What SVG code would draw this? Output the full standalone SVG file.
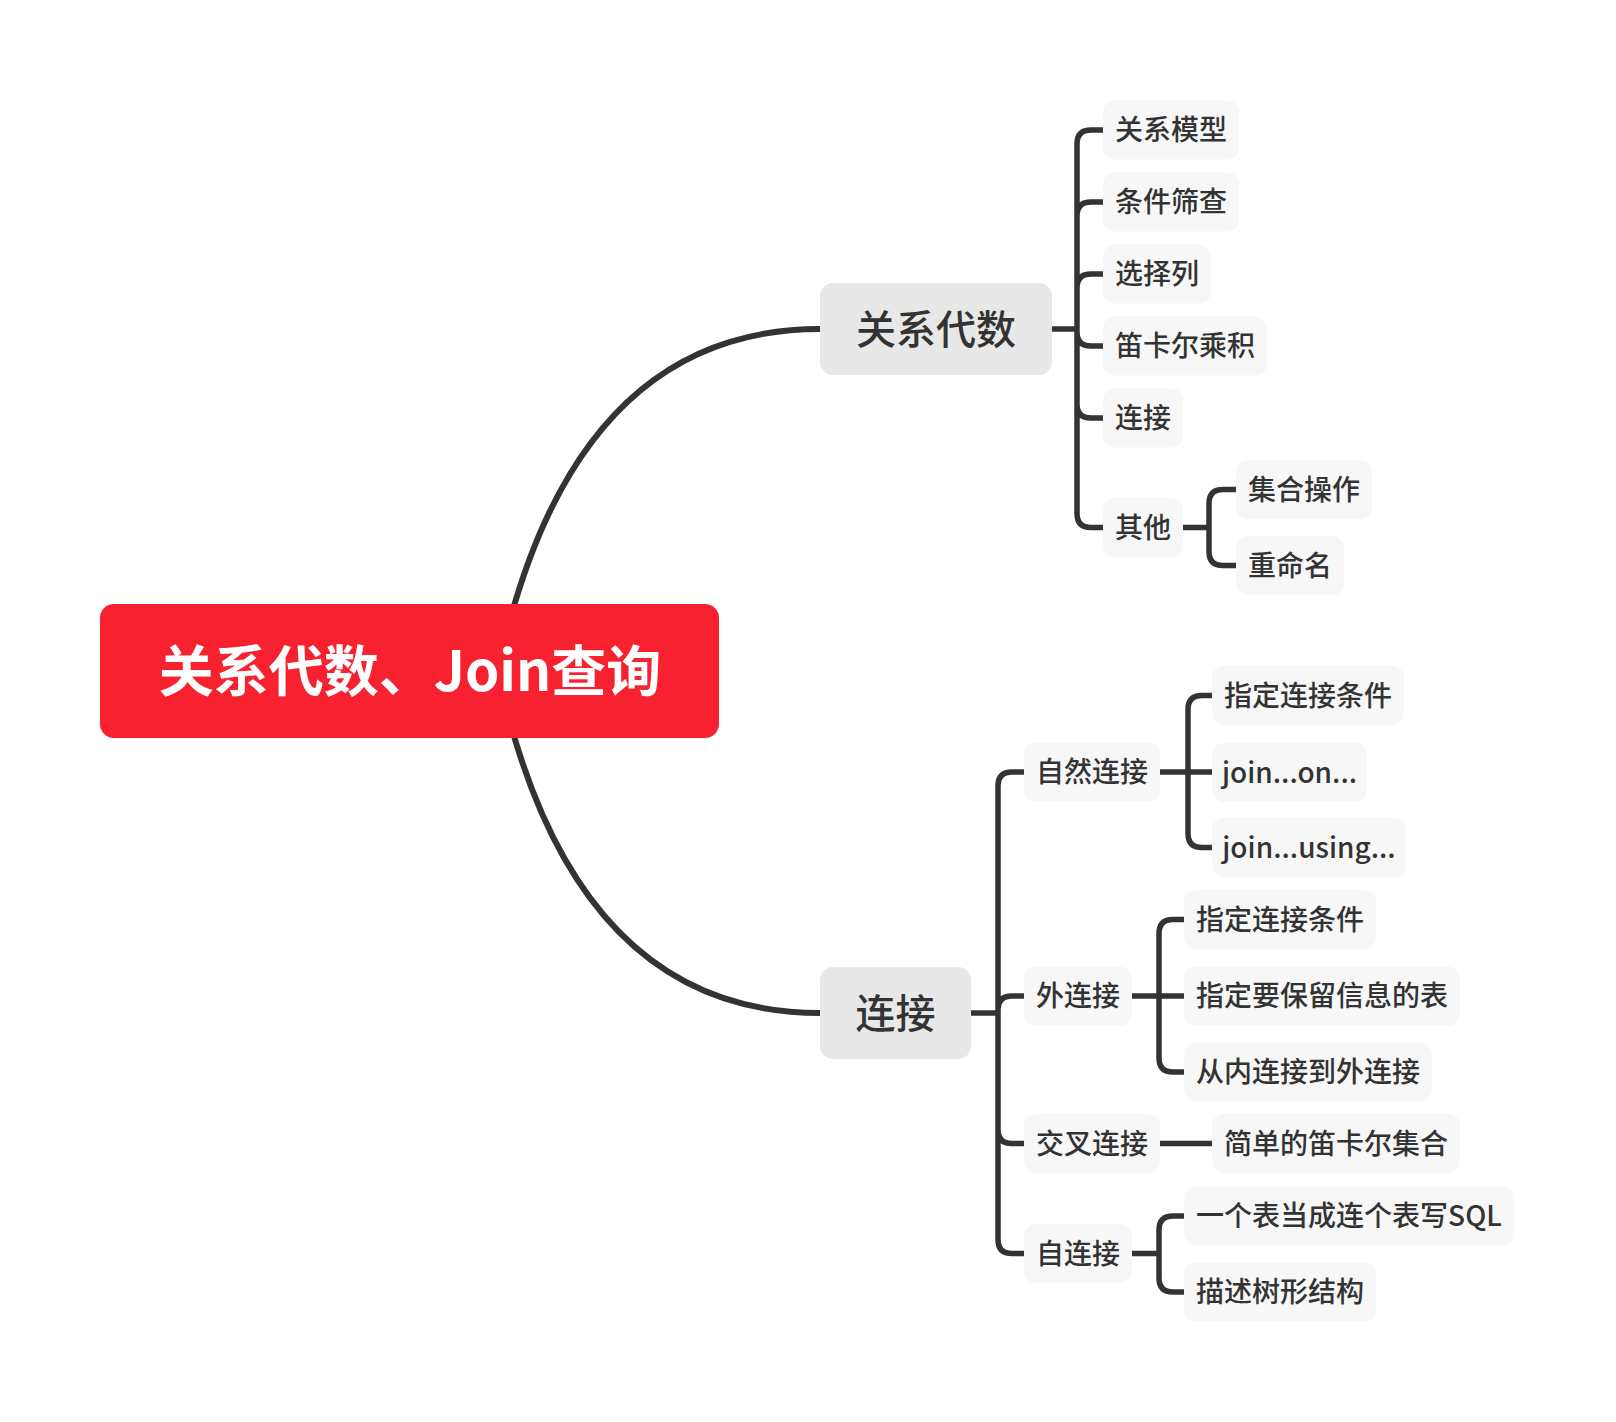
<svg xmlns="http://www.w3.org/2000/svg" width="1616" height="1422" viewBox="0 0 1616 1422">
<style>
.root rect{fill:#F7212F}
.root text{fill:#FFFFFF;font-size:55px;font-weight:700}
.l1 rect{fill:#E8E8E8}
.l1 text{fill:#333333;font-size:40px;font-weight:500}
.l2 rect{fill:#F7F7F7}
.l2 text{fill:#333333;font-size:28px;font-weight:500}
text{font-family:"Noto Sans CJK SC","Noto Sans",sans-serif;text-anchor:middle}
.conn path{fill:none;stroke:#333333;stroke-width:5.5;stroke-linecap:butt;stroke-linejoin:round}
.conn path.main{stroke-width:6}
</style>
<rect width="1616" height="1422" fill="#FFFFFF"/>
<g id="connectors" class="conn">
<path class="main" d="M510,620 Q590,329 820,329"/>
<path class="main" d="M510,722 Q590,1013 820,1013"/>
<path d="M1052,329 H1077 M1077,329 V144 Q1077,130 1091,130 H1103 M1077,329 V216 Q1077,202 1091,202 H1103 M1077,329 V288 Q1077,274 1091,274 H1103 M1077,329 V332 Q1077,346 1091,346 H1103 M1077,329 V404 Q1077,418 1091,418 H1103 M1077,329 V513.5 Q1077,527.5 1091,527.5 H1103"/>
<path d="M1183,527.5 H1209 M1209,527.5 V503.5 Q1209,489.5 1223,489.5 H1236 M1209,527.5 V551.5 Q1209,565.5 1223,565.5 H1236"/>
<path d="M971,1013 H998 M998,1013 V786 Q998,772 1012,772 H1024 M998,1013 V1010 Q998,996 1012,996 H1024 M998,1013 V1129.5 Q998,1143.5 1012,1143.5 H1024 M998,1013 V1239.5 Q998,1253.5 1012,1253.5 H1024"/>
<path d="M1160,772 H1212 M1188,772 V709.5 Q1188,695.5 1202,695.5 H1212 M1188,772 V833.5 Q1188,847.5 1202,847.5 H1212"/>
<path d="M1132,996 H1184 M1159,996 V933.5 Q1159,919.5 1173,919.5 H1184 M1159,996 V1058 Q1159,1072 1173,1072 H1184"/>
<path d="M1160,1143.5 H1212"/>
<path d="M1132,1253.5 H1159 M1159,1253.5 V1230 Q1159,1216 1173,1216 H1184 M1159,1253.5 V1278 Q1159,1292 1173,1292 H1184"/>
</g>
<g id="root" class="root"><rect x="100" y="604" width="619" height="134" rx="14"/><text x="410" y="691">关系代数、Join查询</text></g>
<g id="n-gxds" class="l1"><rect x="820" y="283" width="232" height="92" rx="13"/><text x="936" y="343.6">关系代数</text></g>
<g id="n-lj" class="l1"><rect x="820" y="967" width="151" height="92" rx="13"/><text x="895.5" y="1027.6">连接</text></g>
<g id="n-gxmx" class="l2"><rect x="1103" y="100.5" width="136" height="59" rx="12"/><text x="1171" y="140.2">关系模型</text></g>
<g id="n-tjsc" class="l2"><rect x="1103" y="172.5" width="136" height="59" rx="12"/><text x="1171" y="212.2">条件筛查</text></g>
<g id="n-xzl" class="l2"><rect x="1103" y="244.5" width="108" height="59" rx="12"/><text x="1157" y="284.2">选择列</text></g>
<g id="n-dkecj" class="l2"><rect x="1103" y="316.5" width="164" height="59" rx="12"/><text x="1185" y="356.2">笛卡尔乘积</text></g>
<g id="n-lj2" class="l2"><rect x="1103" y="388.5" width="80" height="59" rx="12"/><text x="1143" y="428.2">连接</text></g>
<g id="n-qt" class="l2"><rect x="1103" y="498" width="80" height="59" rx="12"/><text x="1143" y="537.7">其他</text></g>
<g id="n-jhcz" class="l2"><rect x="1236" y="460" width="136" height="59" rx="12"/><text x="1304" y="499.7">集合操作</text></g>
<g id="n-cmm" class="l2"><rect x="1236" y="536" width="108" height="59" rx="12"/><text x="1290" y="575.7">重命名</text></g>
<g id="n-zrlj" class="l2"><rect x="1024" y="742.5" width="136" height="59" rx="12"/><text x="1092" y="782.2">自然连接</text></g>
<g id="n-wlj" class="l2"><rect x="1024" y="966.5" width="108" height="59" rx="12"/><text x="1078" y="1006.2">外连接</text></g>
<g id="n-jclj" class="l2"><rect x="1024" y="1114" width="136" height="59" rx="12"/><text x="1092" y="1153.7">交叉连接</text></g>
<g id="n-zlj" class="l2"><rect x="1024" y="1224" width="108" height="59" rx="12"/><text x="1078" y="1263.7">自连接</text></g>
<g id="n-zdljtj1" class="l2"><rect x="1212" y="666" width="192" height="59" rx="12"/><text x="1308" y="705.7">指定连接条件</text></g>
<g id="n-joinon" class="l2"><rect x="1212" y="743" width="155" height="59" rx="12"/><text x="1289.5" y="782.7">join...on...</text></g>
<g id="n-joinusing" class="l2"><rect x="1212" y="818" width="194" height="59" rx="12"/><text x="1309" y="857.7">join...using...</text></g>
<g id="n-zdljtj2" class="l2"><rect x="1184" y="890" width="192" height="59" rx="12"/><text x="1280" y="929.7">指定连接条件</text></g>
<g id="n-zdyblxxdb" class="l2"><rect x="1184" y="966.5" width="276" height="59" rx="12"/><text x="1322" y="1006.2">指定要保留信息的表</text></g>
<g id="n-cnljdwlj" class="l2"><rect x="1184" y="1042.5" width="248" height="59" rx="12"/><text x="1308" y="1082.2">从内连接到外连接</text></g>
<g id="n-jddkejh" class="l2"><rect x="1212" y="1114" width="248" height="59" rx="12"/><text x="1336" y="1153.7">简单的笛卡尔集合</text></g>
<g id="n-ygbdc" class="l2"><rect x="1184" y="1186.5" width="330" height="59" rx="12"/><text x="1349" y="1226.2">一个表当成连个表写SQL</text></g>
<g id="n-msslgjg" class="l2"><rect x="1184" y="1262.5" width="192" height="59" rx="12"/><text x="1280" y="1302.2">描述树形结构</text></g>
</svg>
